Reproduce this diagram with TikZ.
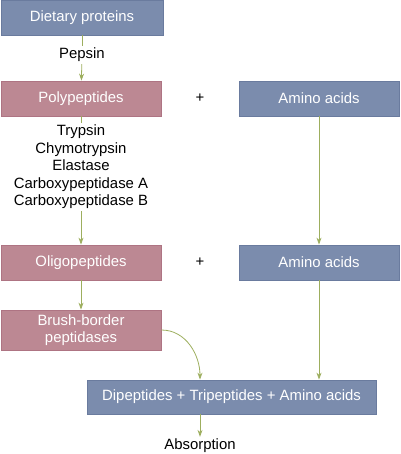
\documentclass[tikz,border=0pt]{standalone}
\usepackage{fontspec}
\setmainfont{Liberation Sans}
\usepackage{xcolor}
\usepackage{tikz}
\usetikzlibrary{arrows.meta, calc}

\definecolor{slatefill}{HTML}{7B8CAD}
\definecolor{slateline}{HTML}{6A7B9E}
\definecolor{rosefill}{HTML}{BC8893}
\definecolor{roseline}{HTML}{AE7483}
\definecolor{olive}{HTML}{9DAE5E}

\begin{document}
\begin{tikzpicture}[
  x=1pt, y=-1pt,
  font=\fontsize{14.9}{17.5}\selectfont,
  substrate/.style={rectangle, draw=slateline, fill=slatefill, text=white, minimum width=160pt, minimum height=35pt, line width=0.8pt},
  peptide/.style={rectangle, draw=roseline, fill=rosefill, text=white, minimum width=160pt, minimum height=35pt, line width=0.8pt, align=center},
  enzyme/.style={inner sep=2pt, align=center},
  link/.style={olive, line width=0.8pt},
  flow/.style={link, -{Stealth[length=7pt, width=5pt]}}
]
\useasboundingbox (0,0) rectangle (400,454);

\node[substrate, minimum width=162pt] (diet) at (82,17.5) {Dietary proteins};
\node[enzyme] (pepsin) at (82,55) {Pepsin};
\node[peptide] (poly) at (81,98.5) {Polypeptides};
\node (plusA) at (200,98.5) {+};
\node[substrate] (aminoA) at (319,98.5) {Amino acids};
\node[enzyme] (proteases) at (81,167) {Trypsin\\Chymotrypsin\\Elastase\\Carboxypeptidase A\\Carboxypeptidase B};
\node[peptide] (oligo) at (81,262.5) {Oligopeptides};
\node (plusB) at (200,262.5) {+};
\node[substrate] (aminoB) at (319,262.5) {Amino acids};
\node[peptide, minimum height=40pt] (brush) at (81,330) {Brush-border\\peptidases};
\node[substrate, minimum width=289pt, minimum height=34pt] (products) at (231.5,397) {Dipeptides + Tripeptides + Amino acids};
\node[enzyme] (absorb) at (200,446) {Absorption};

\draw [link] (diet) -- (pepsin);
\draw [flow] (pepsin) -- (poly);
\draw [link] (poly) -- (proteases);
\draw [flow] (proteases) -- (oligo);
\draw [flow] (oligo) -- (brush);
\draw [flow] (brush.east) to[out=0, in=90] (products.north -| absorb);
\draw [flow] (aminoA) -- (aminoB);
\draw [flow] (aminoB) -- (products.north -| aminoB);
\draw [flow] (products.south -| absorb) -- (absorb);

\end{tikzpicture}
\end{document}
